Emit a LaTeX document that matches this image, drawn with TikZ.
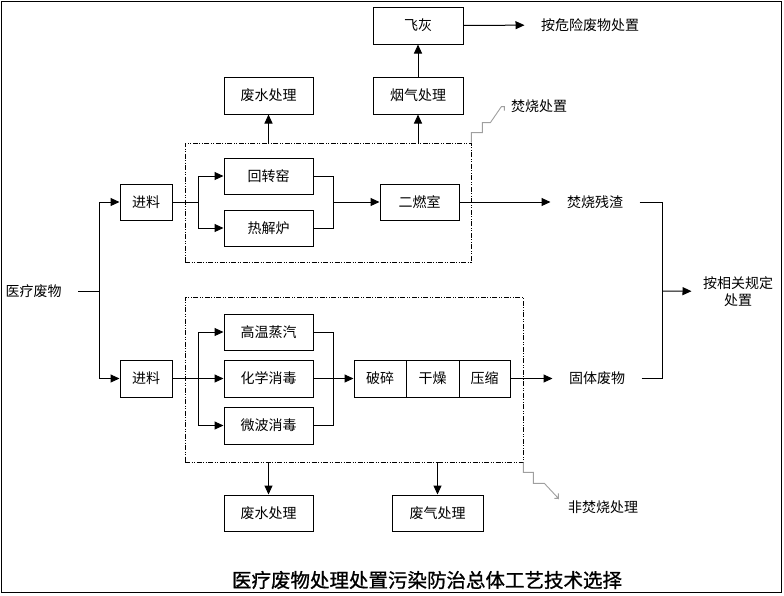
\documentclass[tikz,border=0pt]{standalone}
\usepackage{fontspec}
\usepackage{tikz}
\usetikzlibrary{arrows.meta}
\newfontfamily\cjk{Noto Sans CJK SC}
\newfontfamily\cjkbold{Noto Sans CJK SC}[FakeBold=1]

\begin{document}
\begin{tikzpicture}[x=1pt,y=-1pt,>={Triangle[length=9pt,width=8pt]},line width=1pt,
    font=\cjk\fontsize{14}{17}\selectfont,
    box/.style={draw,inner sep=0pt,minimum height=36pt},
    lbl/.style={inner sep=0pt,inner xsep=16pt},
    dbox/.style={draw,line width=0.8pt,dash pattern=on 5pt off 1.5pt on 1pt off 1.5pt on 1pt off 1.5pt,inner sep=0pt},
    callout/.style={draw=gray!75,line width=0.9pt}]

      \useasboundingbox (0,0) rectangle (784,595);
      \draw (1,1) rectangle (781,592);

      % incineration
      \node[dbox,minimum width=286pt,minimum height=119pt] (db1) at (328,202.5) {};
      \node[box,minimum width=52pt] (jl1) at (146,202) {进料};
      \node[box,minimum width=89pt] (hzy) at (268.5,176) {回转窑};
      \node[box,minimum width=89pt] (rjl) at (268.5,228) {热解炉};
      \node[box,minimum width=79pt] (erc) at (419.5,202) {二燃室};
      \node[box,minimum width=89pt,minimum height=37pt] (fs1) at (268.5,95.5) {废水处理};
      \node[box,minimum width=90pt,minimum height=37pt] (yq) at (418,95.5) {烟气处理};
      \node[box,minimum width=90pt,minimum height=37pt] (fh) at (418,25.5) {飞灰};
      \node[lbl] (wx) at (590,25) {按危险废物处置};
      \node[lbl] (fscz) at (595,202) {焚烧残渣};
      \node[inner sep=0pt] (fsl) at (539,106) {焚烧处置};

      % non-incineration
      \node[dbox,minimum width=338pt,minimum height=165pt] (db2) at (354,379.5) {};
      \node[box,minimum width=52pt,minimum height=37pt] (jl2) at (146,378.5) {进料};
      \node[box,minimum width=89pt] (gw) at (268.5,332) {高温蒸汽};
      \node[box,minimum width=89pt,minimum height=37pt] (hx) at (268.5,378.5) {化学消毒};
      \node[box,minimum width=89pt,minimum height=37pt] (wb) at (268.5,425.5) {微波消毒};
      \node[box,minimum width=52pt,minimum height=37pt] (ps) at (380,378.5) {破碎};
      \node[box,minimum width=53pt,minimum height=37pt] (gz) at (432.5,378.5) {干燥};
      \node[box,minimum width=51pt,minimum height=37pt] (ys) at (484.5,378.5) {压缩};
      \node[box,minimum width=89pt] (fs2) at (268.5,513) {废水处理};
      \node[box,minimum width=91pt] (fq) at (437.5,513) {废气处理};
      \node[lbl] (gtfw) at (597,378.5) {固体废物};
      \node[inner sep=0pt] (ffl) at (603,507) {非焚烧处理};

      \node[lbl] (ylfw) at (33.5,291) {医疗废物};
      \node[inner sep=0pt,inner xsep=11pt,align=center] (axg) at (738,291.5) {按相关规定\\处置};
      \node[font=\cjkbold\fontsize{19.5}{23}\selectfont] (title) at (427,580) {医疗废物处理处置污染防治总体工艺技术选择};

      \coordinate (sp) at (99,291);
      \coordinate (b1) at (198,202);
      \coordinate (m1) at (333,202);
      \coordinate (b2) at (198,378.5);
      \coordinate (m2) at (333,378.5);
      \coordinate (m3) at (662,291);

      \draw (ylfw) -- (sp);
      \draw[->] (sp) |- (jl1);
      \draw[->] (sp) |- (jl2);

      \draw (jl1) -- (b1);
      \draw[->] (b1) |- (hzy);
      \draw[->] (b1) |- (rjl);
      \draw (hzy) -| (m1);
      \draw (rjl) -| (m1);
      \draw[->] (m1) -- (erc);
      \draw[->] (erc) -- (fscz);
      \draw[->] (db1.north -| fs1) -- (fs1);
      \draw[->] (db1.north -| yq) -- (yq);
      \draw[->] (yq) -- (fh);
      \draw[->] (fh) -- (wx);

      \draw[->] (jl2) -- (hx);
      \draw[->] (b2) |- (gw);
      \draw[->] (b2) |- (wb);
      \draw (gw) -| (m2);
      \draw (wb) -| (m2);
      \draw[->] (hx) -- (ps);
      \draw[->] (ys) -- (gtfw);
      \draw[->] (db2.south -| fs2) -- (fs2);
      \draw[->] (db2.south -| fq) -- (fq);

      \draw (fscz) -| (m3);
      \draw (gtfw) -| (m3);
      \draw[->] (m3) -- (axg);

      % callouts
      \draw[callout] (db1.north east) -- ++(0,-10) -- ++(11,0) -- ++(0,-10) -- ++(8,0) -- ++(11,-16) -- ++(3,0) -- ++(0,4);
      \draw[callout] (db2.south east) -- ++(0,10) -- ++(10,0) -- ++(0,11) -- ++(11,0) -- ++(14,15) -- ++(0,-5) ++(0,5) -- ++(-4,0);
    \end{tikzpicture}
\end{document}
